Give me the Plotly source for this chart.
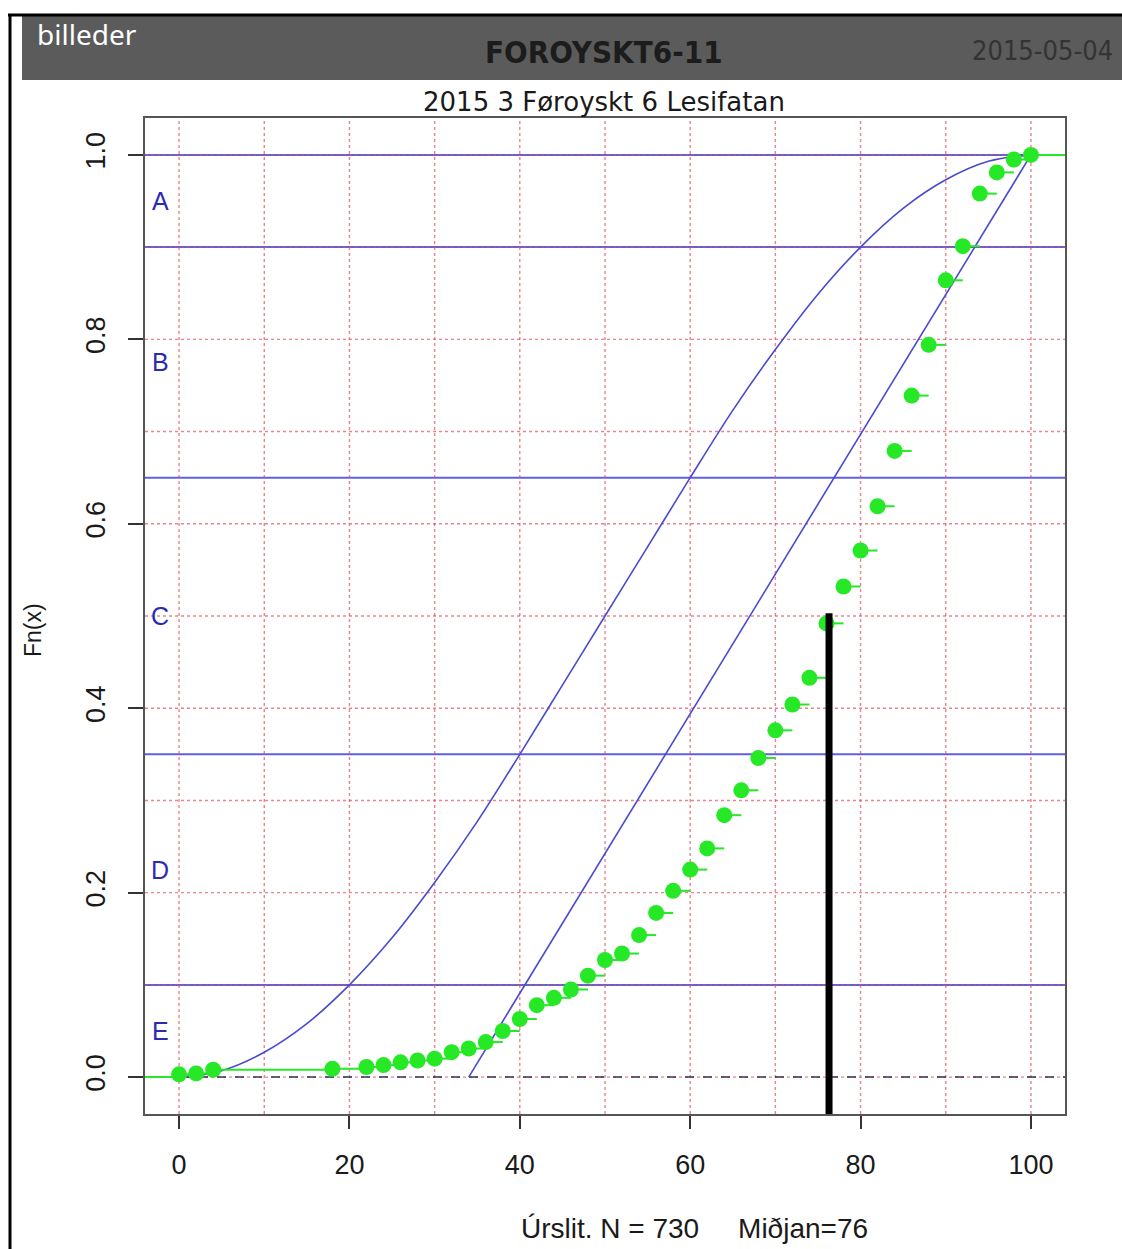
import plotly.graph_objects as go

# ---- data ----
score_x = [0, 2, 4, 18, 22, 24, 26, 28, 30, 32, 34, 36, 38, 40, 42, 44, 46, 48, 50, 52,
           54, 56, 58, 60, 62, 64, 66, 68, 70, 72, 74, 76, 78, 80, 82, 84, 86, 88, 90, 92,
           94, 96, 98, 100]
fn_y = [0.003, 0.004, 0.008, 0.009, 0.011, 0.013, 0.016, 0.018, 0.020, 0.027,
        0.031, 0.038, 0.050, 0.063, 0.078, 0.086, 0.095, 0.110, 0.127, 0.134,
        0.154, 0.178, 0.202, 0.225, 0.248, 0.284, 0.311, 0.346, 0.376, 0.404,
        0.433, 0.492, 0.532, 0.571, 0.619, 0.679, 0.739, 0.794, 0.864, 0.901,
        0.958, 0.981, 0.995, 1.0]

curve_x = [0, 5, 10, 15, 20, 25, 30, 35, 40, 45, 50, 55, 60, 65, 70, 75, 80, 85, 90, 95, 100]
curve_y = [0.0, 0.007, 0.027, 0.058, 0.1, 0.151, 0.211, 0.277, 0.35, 0.425, 0.5,
           0.575, 0.65, 0.723, 0.789, 0.849, 0.9, 0.942, 0.973, 0.993, 1.0]

line_x = [34, 100]
line_y = [0.0, 1.0]

band_limits = [0.1, 0.35, 0.65, 0.9, 1.0]
grade_labels = ["A", "B", "C", "D", "E"]
grade_y = [0.95, 0.775, 0.5, 0.225, 0.05]

median_x = 76.3
median_top = 0.503

x_ticks = [0, 20, 40, 60, 80, 100]
y_ticks = [0.0, 0.2, 0.4, 0.6, 0.8, 1.0]
y_tick_text = ["0.0", "0.2", "0.4", "0.6", "0.8", "1.0"]
x_grid = [0, 10, 20, 30, 40, 50, 60, 70, 80, 90, 100]
y_grid = [0.0, 0.1, 0.2, 0.3, 0.4, 0.5, 0.6, 0.7, 0.8, 0.9, 1.0]

X_RANGE = [-4, 104]
Y_RANGE = [-0.04, 1.04]

# ---- geometry helpers (pixel -> paper) ----
W_FIG, H_FIG = 1122, 1249
L, R, T, B = 145, 1065, 118, 1114
PW, PH = R - L, B - T


def px(xp):
    return (xp - L) / PW


def py(yp):
    return (B - yp) / PH


BLUE = "#4a4ad0"
GREEN = "#26e826"
GRID = "rgba(220,80,95,0.7)"
FONT = "Liberation Sans, Arial, sans-serif"

fig = go.Figure()

# horizontal band lines
for yv in band_limits:
    fig.add_trace(go.Scatter(x=X_RANGE, y=[yv, yv], mode="lines",
                             line=dict(color="#6060dd", width=2),
                             hoverinfo="skip", showlegend=False))

# dotted grid (drawn over the band lines, as in the original)
gx, gy = [], []
for xv in x_grid:
    gx += [xv, xv, None]
    gy += [Y_RANGE[0], Y_RANGE[1], None]
for yv in y_grid:
    gx += [X_RANGE[0], X_RANGE[1], None]
    gy += [yv, yv, None]
fig.add_trace(go.Scatter(x=gx, y=gy, mode="lines",
                         line=dict(color=GRID, width=1.4, dash="dot"),
                         hoverinfo="skip", showlegend=False))

# dashed line at 0
fig.add_trace(go.Scatter(x=X_RANGE, y=[0, 0], mode="lines",
                         line=dict(color="#333355", width=1.5, dash="dash"),
                         hoverinfo="skip", showlegend=False))

# reference curves
fig.add_trace(go.Scatter(x=curve_x, y=curve_y, mode="lines",
                         line=dict(color=BLUE, width=1.6, shape="spline", smoothing=1.0),
                         hoverinfo="skip", showlegend=False))
fig.add_trace(go.Scatter(x=line_x, y=line_y, mode="lines",
                         line=dict(color=BLUE, width=1.6),
                         hoverinfo="skip", showlegend=False))

# ECDF horizontal segments
seg_x, seg_y = [X_RANGE[0], score_x[0], None], [0, 0, None]
for i in range(len(score_x)):
    x_next = score_x[i + 1] if i + 1 < len(score_x) else X_RANGE[1]
    seg_x += [score_x[i], x_next, None]
    seg_y += [fn_y[i], fn_y[i], None]
fig.add_trace(go.Scatter(x=seg_x, y=seg_y, mode="lines",
                         line=dict(color=GREEN, width=2),
                         hoverinfo="skip", showlegend=False))
fig.add_trace(go.Scatter(x=score_x, y=fn_y, mode="markers",
                         marker=dict(color=GREEN, size=16, line=dict(width=0)),
                         showlegend=False))

# median bar
fig.add_trace(go.Scatter(x=[median_x, median_x], y=[Y_RANGE[0], median_top], mode="lines",
                         line=dict(color="black", width=7),
                         hoverinfo="skip", showlegend=False))

annotations = []
for lab, yv in zip(grade_labels, grade_y):
    annotations.append(dict(x=-2.2, y=yv, xref="x", yref="y", text=lab, showarrow=False,
                            font=dict(family=FONT, size=25, color="#2b2bb0"),
                            xanchor="center", yanchor="middle"))

annotations += [
    dict(x=px(35), y=py(34), xref="paper", yref="paper", text="billeder", showarrow=False,
         xanchor="left", yanchor="middle",
         font=dict(family="Noto Sans, DejaVu Sans, sans-serif", size=28, color="white")),
    dict(x=px(604), y=py(52), xref="paper", yref="paper", text="<b>FOROYSKT6-11</b>",
         showarrow=False, xanchor="center", yanchor="middle",
         font=dict(family="Liberation Sans Narrow, DejaVu Sans Condensed, sans-serif",
                   size=31, color="#1c1c1c")),
    dict(x=px(1115), y=py(50), xref="paper", yref="paper", text="2015-05-04",
         showarrow=False, xanchor="right", yanchor="middle",
         font=dict(family="Liberation Sans Narrow, DejaVu Sans Condensed, sans-serif",
                   size=27, color="#333333")),
    dict(x=px(604), y=py(102), xref="paper", yref="paper", text="2015 3 Føroyskt 6 Lesifatan",
         showarrow=False, xanchor="center", yanchor="middle",
         font=dict(family="DejaVu Sans, sans-serif", size=26, color="#1a1a1a")),
    dict(x=px(33), y=py(630), xref="paper", yref="paper", text="Fn(x)", textangle=-90,
         showarrow=False, xanchor="center", yanchor="middle",
         font=dict(family=FONT, size=23, color="#1a1a1a")),
    dict(x=px(694), y=py(1228), xref="paper", yref="paper",
         text="Úrslit. N = 730&nbsp;&nbsp;&nbsp;&nbsp;&nbsp;Miðjan=76",
         showarrow=False, xanchor="center", yanchor="middle",
         font=dict(family=FONT, size=28, color="#1a1a1a")),
]

shapes = [
    dict(type="rect", xref="paper", yref="paper", x0=px(22), x1=px(1122), y0=py(80), y1=py(16),
         fillcolor="#5b5b5b", line=dict(width=0), layer="below"),
    dict(type="line", xref="paper", yref="paper", x0=px(8), x1=px(1122), y0=py(15), y1=py(15),
         line=dict(color="black", width=3)),
    dict(type="line", xref="paper", yref="paper", x0=px(10), x1=px(10), y0=py(15), y1=py(1249),
         line=dict(color="black", width=3)),
]

fig.update_layout(
    width=W_FIG, height=H_FIG,
    margin=dict(l=L, r=W_FIG - R, t=T, b=H_FIG - B, autoexpand=False),
    paper_bgcolor="white", plot_bgcolor="white",
    showlegend=False,
    annotations=annotations, shapes=shapes,
    xaxis=dict(range=X_RANGE, tickvals=x_ticks, ticks="outside", ticklen=13, tickwidth=1.5,
               tickcolor="#333", showline=True, mirror=True, linecolor="#555", linewidth=2,
               showgrid=False, zeroline=False, ticklabelstandoff=13,
               tickfont=dict(family=FONT, size=27, color="#1a1a1a")),
    yaxis=dict(range=Y_RANGE, tickvals=y_ticks, ticktext=y_tick_text, tickangle=-90,
               ticks="outside", ticklen=15, tickwidth=1.5, tickcolor="#333",
               showline=True, mirror=True, linecolor="#555", linewidth=2,
               showgrid=False, zeroline=False, ticklabelstandoff=12,
               tickfont=dict(family=FONT, size=27, color="#1a1a1a")),
)

fig.write_html("out.html", config={"displayModeBar": False},
               post_script="document.body.style.margin='0';")
